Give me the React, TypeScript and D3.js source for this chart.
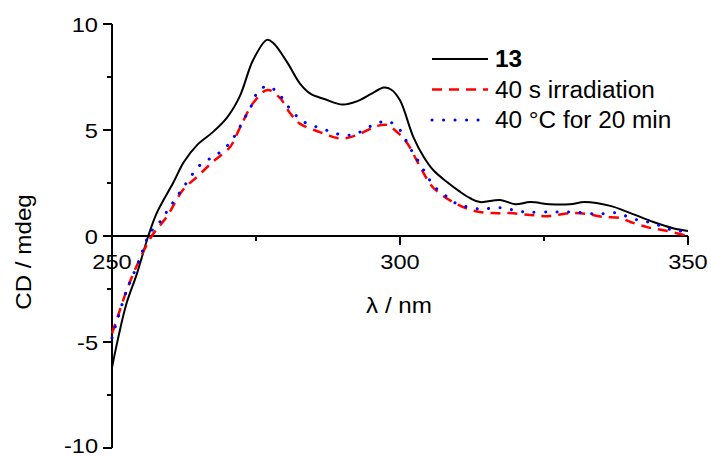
import React from "react";
import * as d3 from "d3";

const blackX = [250, 251, 252.5, 254.3, 256.3, 257.8, 260.6, 262.5, 264.8, 267.5, 270, 272.2, 274.5, 276.9, 278, 280.4, 282.6, 284.5, 287, 290, 292.5, 295, 297.2, 298.5, 300, 302.3, 304.1, 305.8, 308.1, 310.4, 312.2, 313.9, 317.4, 320, 322.6, 326, 329.5, 332.1, 336.5, 340, 344, 347.4, 350];
const blackY = [-6.2, -4.9, -3.2, -1.8, 0, 1.1, 2.5, 3.5, 4.3, 4.9, 5.6, 6.6, 8.3, 9.25, 9.1, 8.2, 7.2, 6.7, 6.45, 6.2, 6.35, 6.7, 7.0, 6.9, 6.4, 4.68, 3.74, 3.1, 2.56, 2.09, 1.78, 1.6, 1.7, 1.5, 1.6, 1.5, 1.5, 1.6, 1.42, 1.08, 0.66, 0.37, 0.24];

const redX = [250, 251, 252.5, 254.3, 256.9, 259.5, 262.3, 264.8, 267.5, 270.5, 272.2, 274.5, 277, 279.2, 280.9, 282.6, 286.1, 289.6, 292.5, 296, 297.7, 299.5, 301.2, 303.5, 305.7, 309.2, 312.7, 316.1, 319.1, 322.6, 326, 329.5, 332.5, 335.2, 338.2, 340, 342.9, 346.4, 350];
const redY = [-4.6, -3.8, -2.6, -1.4, 0, 0.9, 2.17, 2.8, 3.5, 4.2, 5.1, 6.27, 6.89, 6.5, 5.8, 5.3, 4.9, 4.6, 4.76, 5.19, 5.24, 4.9, 4.4, 3.26, 2.3, 1.6, 1.2, 1.08, 1.08, 0.99, 0.94, 1.08, 1.04, 0.9, 0.85, 0.66, 0.42, 0.24, 0.0];

const blueX = [250, 251, 252.5, 254.5, 256.6, 258.3, 259.7, 262.3, 265.3, 267.5, 269.3, 271, 273.1, 274.3, 275.3, 277, 278.8, 280.6, 282.3, 284, 286.1, 288.2, 290.1, 292.2, 294.3, 296.2, 297.9, 300, 301.2, 302.3, 303.5, 304.7, 306.1, 308.2, 310, 312.2, 314.2, 316.1, 318.2, 320.3, 322.2, 326, 330, 334.2, 337.8, 340, 342, 344, 346, 348.1, 350];
const blueY = [-4.8, -3.9, -2.6, -1.3, 0.14, 0.66, 1.22, 2.26, 3.35, 3.73, 4.06, 4.6, 5.6, 6.2, 6.8, 7.07, 6.75, 6.1, 5.6, 5.28, 5.1, 4.9, 4.76, 4.8, 5.1, 5.33, 5.42, 5.0, 4.43, 3.9, 3.4, 2.83, 2.3, 1.84, 1.5, 1.35, 1.27, 1.32, 1.32, 1.18, 1.13, 1.13, 1.13, 1.04, 1.08, 0.85, 0.71, 0.61, 0.38, 0.24, 0.24];

const xMajor = [250, 300, 350];
const xMinor = [275, 325];
const yMajor = [-10, -5, 0, 5, 10];
const yMinor = [-7.5, -2.5, 2.5, 7.5];

const legendLabels = ["13", "40 s irradiation", "40 \u00b0C for 20 min"];

const FONT = "'Liberation Sans', Arial, sans-serif";

function SText(props: {
  x: number;
  y: number;
  size: number;
  sx: number;
  anchor?: string;
  rotate?: number;
  bold?: boolean;
  dy?: string;
  children: React.ReactNode;
}) {
  const { x, y, size, sx, anchor = "start", rotate = 0, bold, dy, children } = props;
  return (
    <text
      transform={`translate(${x},${y}) rotate(${rotate}) scale(${sx},1)`}
      textAnchor={anchor}
      fontSize={size}
      fontWeight={bold ? "bold" : "normal"}
      dy={dy}
    >
      {children}
    </text>
  );
}

export default function App() {
  const x = d3.scaleLinear().domain([250, 350]).range([112, 688]);
  const y = d3.scaleLinear().domain([-10, 10]).range([448, 24]);
  const line = d3
    .line<[number, number]>()
    .x((d) => x(d[0]))
    .y((d) => y(d[1]))
    .curve(d3.curveCatmullRom.alpha(0.5));
  const zip = (a: number[], b: number[]) => a.map((v, i) => [v, b[i]] as [number, number]);

  const series = [
    { d: zip(blackX, blackY), color: "#000", dash: undefined as string | undefined, w: 2, cap: "butt" },
    { d: zip(redX, redY), color: "#ff0000", dash: "10,7", w: 2.5, cap: "butt" },
    { d: zip(blueX, blueY), color: "#0000ff", dash: "0.1,11.4", w: 3, cap: "round" },
  ];

  return (
    <svg width={711} height={457} style={{ position: "absolute", left: 0, top: 0, background: "#fff" }} fontFamily={FONT}>
      {/* axes */}
      <line x1={x(250)} x2={x(350)} y1={y(0)} y2={y(0)} stroke="#000" strokeWidth={2} />
      <line x1={x(250)} x2={x(250)} y1={y(10)} y2={y(-10)} stroke="#000" strokeWidth={2} />
      {yMajor.map((t) => (
        <g key={"ym" + t}>
          <line x1={x(250) - 9} x2={x(250)} y1={y(t)} y2={y(t)} stroke="#000" strokeWidth={2} />
          <SText x={x(250) - 14} y={y(t) + (t === -10 ? -2 : 1)} size={20} sx={1.18} anchor="end" dy="0.36em">
            {t < 0 ? "-" + Math.abs(t) : String(t)}
          </SText>
        </g>
      ))}
      {yMinor.map((t) => (
        <line key={"yn" + t} x1={x(250) - 5} x2={x(250)} y1={y(t)} y2={y(t)} stroke="#000" strokeWidth={2} />
      ))}
      {xMajor.map((t) => (
        <g key={"xm" + t}>
          <line x1={x(t)} x2={x(t)} y1={y(0)} y2={y(0) + 9} stroke="#000" strokeWidth={2} />
          <SText x={x(t)} y={269} size={20} sx={1.18} anchor="middle">
            {t}
          </SText>
        </g>
      ))}
      {xMinor.map((t) => (
        <line key={"xn" + t} x1={x(t)} x2={x(t)} y1={y(0)} y2={y(0) + 5} stroke="#000" strokeWidth={2} />
      ))}
      <SText x={399} y={313} size={22} sx={1.1} anchor="middle">
        {"\u03bb / nm"}
      </SText>
      <SText x={31} y={252} size={22} sx={1.1} anchor="middle" rotate={-90}>
        CD / mdeg
      </SText>

      {/* series */}
      {series.map((s, i) => (
        <path
          key={i}
          d={line(s.d) || ""}
          fill="none"
          stroke={s.color}
          strokeWidth={s.w}
          strokeDasharray={s.dash}
          strokeLinecap={s.cap as any}
        />
      ))}

      {/* legend */}
      {series.map((s, i) => {
        const ly = 59 + i * 30.5;
        return (
          <g key={"lg" + i}>
            <line
              x1={432}
              x2={488}
              y1={ly}
              y2={ly}
              stroke={s.color}
              strokeWidth={s.w}
              strokeDasharray={s.dash}
              strokeLinecap={s.cap as any}
            />
            <SText x={495} y={ly} size={23} sx={1.06} dy="0.36em" bold={i === 0}>
              {legendLabels[i]}
            </SText>
          </g>
        );
      })}
    </svg>
  );
}
